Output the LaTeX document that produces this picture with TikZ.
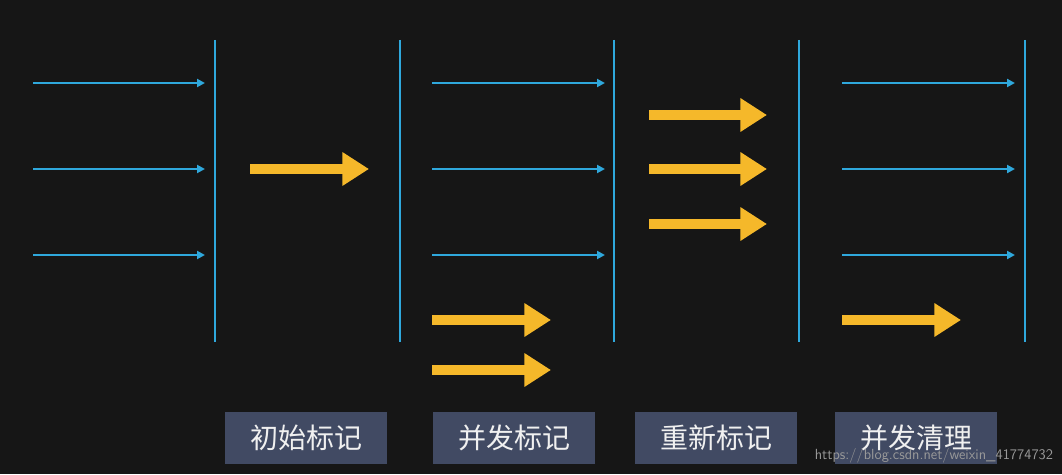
\documentclass[tikz,border=0pt]{standalone}
\usepackage{fontspec}
\newfontfamily\cjk{Noto Sans CJK SC}
\usetikzlibrary{arrows.meta}
\definecolor{bg}{HTML}{161616}
\definecolor{lblue}{HTML}{2FA8DC}
\definecolor{ylw}{HTML}{F5B82A}
\definecolor{boxc}{HTML}{414A63}
\tikzset{
  vline/.style={lblue,line width=2.2pt},
  thin/.style={lblue,line width=1.6pt,-{Triangle[length=6pt,width=6pt]}},
  fat/.style={ylw,line width=7.5pt,-{Triangle[length=20pt,width=24pt]}},
  lbl/.style={fill=boxc,text=white!88!gray,font=\cjk\fontsize{21pt}{24pt}\selectfont,minimum width=122pt,minimum height=39pt,inner sep=0pt},
}
\begin{document}
\begin{tikzpicture}[x=0.75pt,y=-0.75pt]
\fill[bg] (0,0) rectangle (1062,474);
\useasboundingbox (0,0) rectangle (1062,474);
\foreach \x in {215,400,614,799,1025}{\draw[vline] (\x,40) -- (\x,342);}
\foreach \y in {83,169,255}{
  \draw[thin] (33,\y) -- (205,\y);
  \draw[thin] (432,\y) -- (605,\y);
  \draw[thin] (842,\y) -- (1015,\y);
}
\draw[fat] (250,169) -- (369,169);
\draw[fat] (432,320) -- (551,320);
\draw[fat] (432,370) -- (551,370);
\foreach \y in {115,169,224}{\draw[fat] (649,\y) -- (767,\y);}
\draw[fat] (842,320) -- (961,320);
\node[lbl] (l1) at (306,438) {初始标记};
\node[lbl] (l2) at (514,438) {并发标记};
\node[lbl] (l3) at (716,438) {重新标记};
\node[lbl] (l4) at (916,438) {并发清理};
\node[anchor=south east,text=gray!80,font=\sffamily\fontsize{11pt}{12pt}\selectfont,inner sep=2pt] (wm) at (1056,466) {https://blog.csdn.net/weixin\_41774732};
\end{tikzpicture}
\end{document}
